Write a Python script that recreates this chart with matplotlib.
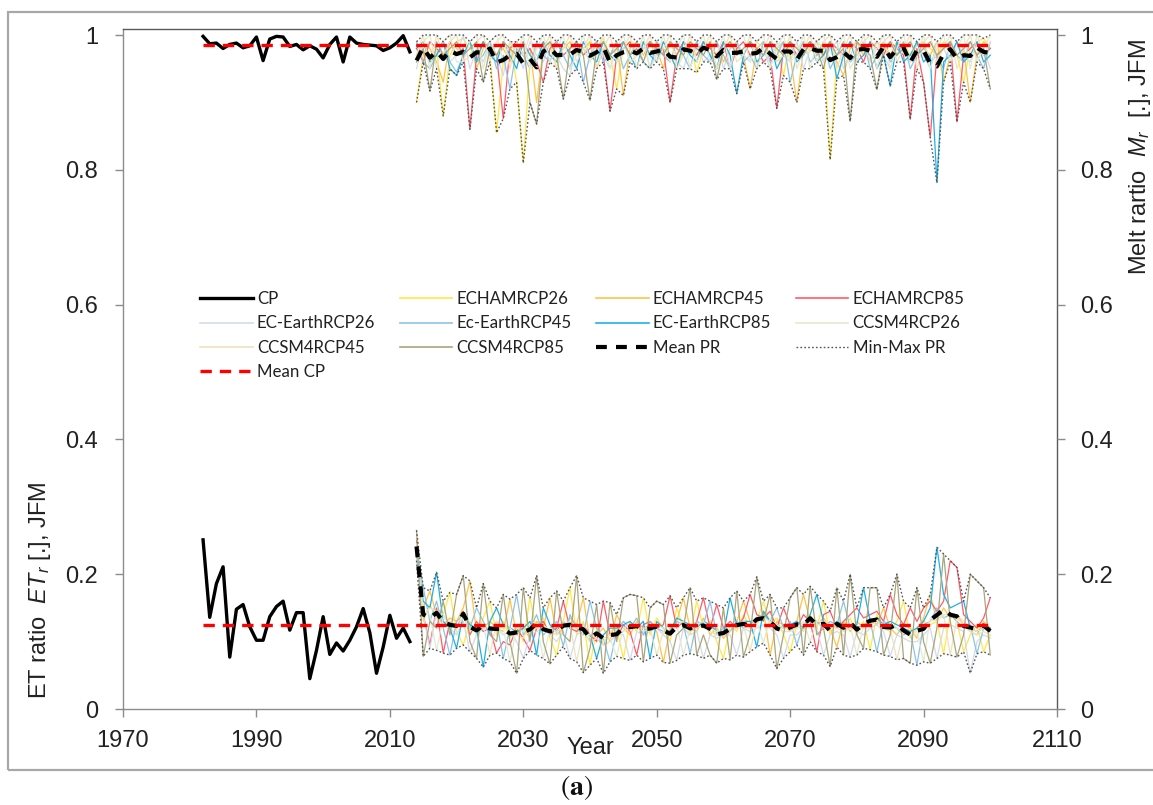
import numpy as np
import matplotlib
matplotlib.use("Agg")
import matplotlib.pyplot as plt
from matplotlib.lines import Line2D
from matplotlib.patches import Rectangle

# ---------------------------------------------------------------- data
years_cp = np.arange(1982, 2014)
years_pr = np.arange(2014, 2101)

# Control period (observed) ratios, JFM
cp_melt = [0.998, 0.987, 0.988, 0.980, 0.986, 0.988, 0.981, 0.984, 0.997, 0.962,
           0.994, 0.998, 0.997, 0.983, 0.986, 0.978, 0.984, 0.979, 0.966, 0.986,
           0.997, 0.960, 0.997, 0.988, 0.986, 0.985, 0.984, 0.977, 0.981, 0.988,
           0.999, 0.975]
cp_et = [0.251, 0.136, 0.186, 0.211, 0.077, 0.148, 0.155, 0.122, 0.102, 0.102,
         0.137, 0.152, 0.160, 0.117, 0.143, 0.143, 0.045, 0.087, 0.137, 0.081,
         0.098, 0.086, 0.102, 0.122, 0.149, 0.113, 0.053, 0.092, 0.139, 0.105,
         0.120, 0.100]

# Projection period melt ratio (2014-2100)
echam26_melt = [0.900, 0.97, 0.99, 0.98, 0.880, 0.97, 0.99, 0.995, 0.98, 0.97,
                0.99, 0.97, 0.855, 0.96, 0.99, 0.930, 0.810, 0.96, 0.98, 0.99,
                0.985, 0.950, 0.99, 0.98, 0.99, 0.97, 0.99, 0.98, 0.995, 0.97,
                0.920, 0.98, 0.99, 0.985, 0.99, 0.97, 0.99, 0.98, 0.97, 0.950,
                0.98, 0.99, 0.944, 0.98, 0.99, 0.97, 0.98, 0.99, 0.98, 0.97,
                0.99, 0.98, 0.99, 0.97, 0.98, 0.940, 0.99, 0.98, 0.99, 0.975,
                0.99, 0.98, 0.815, 0.97, 0.99, 0.98, 0.99, 0.975, 0.99, 0.98,
                0.99, 0.97, 0.98, 0.99, 0.97, 0.985, 0.99, 0.98, 0.97, 0.99,
                0.98, 0.97, 0.930, 0.98, 0.99, 0.995, 0.98]
echam45_melt = [0.97, 0.99, 0.98, 0.96, 0.930, 0.99, 0.98, 0.97, 0.99, 0.950,
                0.98, 0.99, 0.97, 0.98, 0.96, 0.99, 0.97, 0.98, 0.900, 0.98,
                0.99, 0.97, 0.98, 0.99, 0.97, 0.98, 0.99, 0.950, 0.98, 0.97,
                0.99, 0.910, 0.98, 0.99, 0.97, 0.99, 0.98, 0.950, 0.99, 0.97,
                0.99, 0.98, 0.97, 0.99, 0.98, 0.99, 0.96, 0.98, 0.99, 0.97,
                0.920, 0.98, 0.99, 0.97, 0.98, 0.99, 0.97, 0.900, 0.98, 0.99,
                0.97, 0.98, 0.99, 0.96, 0.940, 0.98, 0.99, 0.97, 0.98, 0.99,
                0.98, 0.97, 0.99, 0.98, 0.96, 0.99, 0.98, 0.97, 0.99, 0.930,
                0.97, 0.99, 0.98, 0.900, 0.97, 0.99, 0.98]
echam85_melt = [0.98, 0.96, 0.99, 0.98, 0.97, 0.99, 0.97, 0.98, 0.860, 0.97,
                0.99, 0.98, 0.97, 0.876, 0.98, 0.99, 0.97, 0.98, 0.96, 0.930,
                0.98, 0.99, 0.97, 0.98, 0.99, 0.97, 0.98, 0.99, 0.97, 0.887,
                0.97, 0.98, 0.99, 0.97, 0.98, 0.99, 0.97, 0.98, 0.900, 0.97,
                0.99, 0.98, 0.97, 0.99, 0.98, 0.97, 0.99, 0.950, 0.98, 0.99,
                0.97, 0.98, 0.96, 0.97, 0.891, 0.98, 0.99, 0.97, 0.98, 0.99,
                0.98, 0.97, 0.99, 0.98, 0.97, 0.99, 0.98, 0.960, 0.99, 0.98,
                0.97, 0.99, 0.98, 0.97, 0.875, 0.98, 0.930, 0.848, 0.97, 0.98,
                0.99, 0.871, 0.97, 0.98, 0.99, 0.97, 0.98]
ecearth26_melt = [0.95, 0.99, 0.96, 0.98, 0.99, 0.96, 0.97, 1.00, 0.95, 0.98,
                  0.96, 0.99, 0.97, 0.94, 0.99, 0.98, 0.95, 0.99, 0.97, 0.96,
                  0.99, 0.97, 0.95, 0.94, 0.99, 0.98, 0.96, 0.99, 0.97, 0.95,
                  0.98, 0.99, 0.96, 0.97, 0.99, 0.95, 0.98, 0.99, 0.97, 0.96,
                  0.95, 0.98, 0.99, 0.96, 0.97, 0.99, 0.95, 0.98, 0.99, 0.97,
                  0.96, 0.99, 0.98, 0.95, 0.99, 0.97, 0.96, 0.99, 0.95, 0.98,
                  0.99, 0.96, 0.98, 0.99, 0.95, 0.97, 0.99, 0.98, 0.96, 0.99,
                  0.97, 0.95, 0.99, 0.98, 0.96, 0.99, 0.97, 0.95, 0.99, 0.98,
                  0.96, 0.99, 0.97, 0.96, 0.99, 0.98, 0.95]
ecearth45_melt = [0.99, 0.96, 0.950, 0.97, 0.99, 0.96, 0.945, 0.97, 0.99, 0.96,
                  0.97, 0.99, 0.95, 0.97, 0.920, 0.98, 0.97, 0.95, 0.99, 0.97,
                  0.96, 0.99, 0.97, 0.95, 0.99, 0.930, 0.97, 0.99, 0.96, 0.97,
                  0.99, 0.95, 0.97, 0.99, 0.96, 0.950, 0.99, 0.97, 0.96, 0.99,
                  0.97, 0.95, 0.99, 0.97, 0.96, 0.99, 0.97, 0.95, 0.99, 0.96,
                  0.97, 0.950, 0.99, 0.96, 0.97, 0.99, 0.930, 0.97, 0.99, 0.96,
                  0.97, 0.99, 0.95, 0.97, 0.99, 0.96, 0.97, 0.99, 0.95, 0.97,
                  0.99, 0.96, 0.97, 0.99, 0.95, 0.97, 0.99, 0.96, 0.97, 0.950,
                  0.99, 0.97, 0.96, 0.99, 0.97, 0.95, 0.99]
ecearth85_melt = [0.98, 0.99, 0.96, 0.97, 0.99, 0.950, 0.940, 0.97, 0.99, 0.96,
                  0.99, 0.97, 0.96, 0.99, 0.97, 0.95, 0.99, 0.97, 0.96, 0.99,
                  0.97, 0.96, 0.99, 0.97, 0.95, 0.99, 0.97, 0.96, 0.99, 0.97,
                  0.96, 0.99, 0.97, 0.95, 0.99, 0.97, 0.96, 0.99, 0.97, 0.95,
                  0.99, 0.97, 0.96, 0.99, 0.97, 0.95, 0.99, 0.97, 0.913, 0.97,
                  0.99, 0.96, 0.97, 0.99, 0.95, 0.97, 0.99, 0.96, 0.97, 0.99,
                  0.96, 0.97, 0.99, 0.935, 0.97, 0.99, 0.96, 0.97, 0.99, 0.95,
                  0.97, 0.924, 0.99, 0.96, 0.97, 0.99, 0.96, 0.97, 0.781, 0.96,
                  0.97, 0.99, 0.96, 0.97, 0.99, 0.96, 0.97]
ccsm26_melt = [0.96, 0.99, 1.00, 0.95, 0.99, 1.00, 0.96, 0.960, 0.99, 1.00,
               0.95, 0.99, 1.00, 0.96, 0.99, 0.97, 1.00, 0.95, 0.98, 1.00,
               0.96, 0.98, 1.00, 0.95, 0.97, 1.00, 0.96, 0.98, 1.00, 0.95,
               0.98, 1.00, 0.96, 0.97, 1.00, 0.95, 0.97, 1.00, 0.96, 0.98,
               1.00, 0.95, 0.98, 1.00, 0.96, 0.97, 1.00, 0.95, 0.99, 1.00,
               0.96, 0.99, 1.00, 0.95, 0.98, 1.00, 0.96, 0.97, 1.00, 0.95,
               0.99, 1.00, 0.96, 0.98, 1.00, 0.95, 0.97, 1.00, 0.96, 0.98,
               1.00, 0.95, 0.98, 1.00, 0.96, 0.97, 1.00, 0.95, 0.98, 1.00,
               0.96, 0.98, 1.00, 0.95, 1.00, 0.97, 0.99]
ccsm45_melt = [0.97, 1.00, 0.95, 1.00, 0.97, 0.99, 1.00, 0.96, 0.97, 0.99,
               1.00, 0.96, 0.99, 1.00, 0.95, 0.99, 0.97, 1.00, 0.96, 0.98,
               1.00, 0.95, 0.98, 1.00, 0.96, 0.98, 1.00, 0.95, 0.98, 1.00,
               0.96, 0.98, 1.00, 0.95, 0.98, 1.00, 0.96, 0.98, 1.00, 0.95,
               0.97, 1.00, 0.96, 0.98, 1.00, 0.95, 0.98, 1.00, 0.96, 0.97,
               1.00, 0.95, 0.98, 1.00, 0.96, 0.97, 1.00, 0.95, 0.98, 1.00,
               0.96, 0.99, 1.00, 0.95, 0.98, 1.00, 0.96, 0.99, 1.00, 0.95,
               0.99, 1.00, 0.96, 0.98, 1.00, 0.95, 0.99, 1.00, 0.96, 0.98,
               1.00, 0.95, 0.98, 1.00, 0.96, 0.98, 1.00]
ccsm85_melt = [0.96, 0.98, 0.917, 0.99, 0.97, 0.98, 0.99, 0.97, 0.98, 0.99,
               0.930, 0.98, 0.97, 0.99, 0.98, 0.97, 0.99, 0.900, 0.868, 0.98,
               0.99, 0.97, 0.905, 0.98, 0.99, 0.97, 0.903, 0.98, 0.99, 0.97,
               0.98, 0.99, 0.97, 0.98, 0.960, 0.99, 0.98, 0.97, 0.99, 0.98,
               0.97, 0.99, 0.98, 0.97, 0.99, 0.934, 0.98, 0.99, 0.97, 0.98,
               0.99, 0.98, 0.97, 0.99, 0.98, 0.97, 0.99, 0.98, 0.97, 0.99,
               0.98, 0.950, 0.99, 0.97, 0.98, 0.872, 0.99, 0.98, 0.97, 0.919,
               0.98, 0.99, 0.97, 0.98, 0.99, 0.97, 0.98, 0.99, 0.97, 0.98,
               0.99, 0.97, 0.98, 0.99, 0.97, 0.98, 0.920]

# Projection period ET ratio (2014-2100)
echam26_et = [0.245, 0.130, 0.155, 0.135, 0.140, 0.173, 0.115, 0.095, 0.130, 0.110,
              0.135, 0.160, 0.110, 0.130, 0.105, 0.125, 0.100, 0.165, 0.115, 0.135,
              0.105, 0.080, 0.130, 0.180, 0.110, 0.130, 0.065, 0.120, 0.095, 0.115,
              0.120, 0.075, 0.130, 0.115, 0.165, 0.110, 0.135, 0.120, 0.100, 0.150,
              0.120, 0.110, 0.160, 0.120, 0.130, 0.100, 0.075, 0.125, 0.115, 0.140,
              0.120, 0.130, 0.160, 0.125, 0.135, 0.110, 0.085, 0.125, 0.115, 0.140,
              0.120, 0.160, 0.110, 0.130, 0.115, 0.135, 0.110, 0.130, 0.088, 0.140,
              0.120, 0.115, 0.130, 0.160, 0.105, 0.120, 0.130, 0.125, 0.130, 0.082,
              0.140, 0.130, 0.085, 0.110, 0.125, 0.085, 0.110]
echam45_et = [0.235, 0.150, 0.175, 0.140, 0.125, 0.135, 0.130, 0.150, 0.190, 0.115,
              0.120, 0.130, 0.120, 0.115, 0.163, 0.110, 0.120, 0.105, 0.130, 0.120,
              0.165, 0.110, 0.120, 0.135, 0.125, 0.165, 0.100, 0.110, 0.120, 0.100,
              0.140, 0.120, 0.110, 0.130, 0.120, 0.125, 0.115, 0.069, 0.120, 0.130,
              0.165, 0.120, 0.115, 0.135, 0.110, 0.120, 0.105, 0.115, 0.130, 0.160,
              0.130, 0.125, 0.145, 0.080, 0.130, 0.125, 0.115, 0.130, 0.170, 0.130,
              0.125, 0.135, 0.120, 0.092, 0.130, 0.115, 0.130, 0.120, 0.135, 0.125,
              0.150, 0.120, 0.110, 0.125, 0.120, 0.105, 0.135, 0.170, 0.130, 0.150,
              0.135, 0.140, 0.125, 0.115, 0.110, 0.130, 0.120]
echam85_et = [0.250, 0.140, 0.095, 0.150, 0.083, 0.130, 0.120, 0.145, 0.110, 0.130,
              0.115, 0.120, 0.083, 0.100, 0.095, 0.120, 0.105, 0.087, 0.120, 0.130,
              0.110, 0.120, 0.160, 0.120, 0.115, 0.125, 0.110, 0.100, 0.160, 0.110,
              0.105, 0.125, 0.115, 0.080, 0.125, 0.130, 0.120, 0.125, 0.168, 0.120,
              0.130, 0.115, 0.130, 0.165, 0.120, 0.155, 0.120, 0.130, 0.120, 0.135,
              0.170, 0.140, 0.135, 0.145, 0.120, 0.150, 0.125, 0.120, 0.140, 0.130,
              0.085, 0.140, 0.145, 0.120, 0.130, 0.140, 0.150, 0.135, 0.140, 0.145,
              0.130, 0.170, 0.140, 0.125, 0.150, 0.130, 0.150, 0.160, 0.145, 0.160,
              0.220, 0.210, 0.140, 0.130, 0.120, 0.135, 0.165]
ecearth26_et = [0.220, 0.140, 0.090, 0.145, 0.130, 0.120, 0.110, 0.130, 0.085, 0.110,
                0.120, 0.115, 0.120, 0.110, 0.115, 0.100, 0.075, 0.110, 0.115, 0.120,
                0.110, 0.100, 0.115, 0.075, 0.110, 0.115, 0.100, 0.105, 0.095, 0.100,
                0.110, 0.110, 0.072, 0.115, 0.110, 0.115, 0.120, 0.110, 0.100, 0.072,
                0.120, 0.110, 0.115, 0.075, 0.110, 0.105, 0.110, 0.110, 0.080, 0.120,
                0.115, 0.120, 0.125, 0.120, 0.110, 0.075, 0.110, 0.110, 0.120, 0.125,
                0.120, 0.080, 0.110, 0.115, 0.110, 0.077, 0.115, 0.110, 0.120, 0.125,
                0.115, 0.078, 0.110, 0.105, 0.100, 0.100, 0.110, 0.120, 0.075, 0.120,
                0.125, 0.120, 0.115, 0.053, 0.100, 0.110, 0.105]
ecearth45_et = [0.240, 0.180, 0.130, 0.160, 0.120, 0.080, 0.130, 0.140, 0.120, 0.150,
                0.130, 0.110, 0.130, 0.075, 0.120, 0.170, 0.110, 0.120, 0.140, 0.110,
                0.120, 0.130, 0.093, 0.140, 0.120, 0.110, 0.160, 0.120, 0.105, 0.070,
                0.115, 0.130, 0.120, 0.135, 0.110, 0.130, 0.120, 0.115, 0.110, 0.130,
                0.125, 0.082, 0.130, 0.125, 0.160, 0.110, 0.120, 0.115, 0.130, 0.120,
                0.125, 0.135, 0.140, 0.130, 0.150, 0.120, 0.130, 0.095, 0.125, 0.135,
                0.130, 0.120, 0.130, 0.125, 0.160, 0.120, 0.120, 0.125, 0.130, 0.085,
                0.130, 0.125, 0.120, 0.110, 0.115, 0.065, 0.125, 0.130, 0.150, 0.135,
                0.140, 0.130, 0.120, 0.125, 0.082, 0.120, 0.115]
ecearth85_et = [0.230, 0.160, 0.150, 0.203, 0.130, 0.120, 0.090, 0.140, 0.125, 0.120,
                0.062, 0.130, 0.150, 0.125, 0.120, 0.115, 0.120, 0.130, 0.080, 0.150,
                0.125, 0.115, 0.130, 0.120, 0.125, 0.120, 0.110, 0.075, 0.110, 0.120,
                0.120, 0.125, 0.130, 0.120, 0.130, 0.075, 0.130, 0.120, 0.115, 0.135,
                0.130, 0.125, 0.120, 0.130, 0.125, 0.115, 0.110, 0.165, 0.125, 0.130,
                0.130, 0.092, 0.145, 0.130, 0.125, 0.120, 0.125, 0.130, 0.120, 0.140,
                0.170, 0.130, 0.120, 0.130, 0.125, 0.120, 0.125, 0.180, 0.130, 0.135,
                0.125, 0.130, 0.125, 0.120, 0.115, 0.120, 0.130, 0.150, 0.240, 0.170,
                0.150, 0.155, 0.160, 0.120, 0.115, 0.120, 0.120]
ccsm26_et = [0.240, 0.145, 0.140, 0.087, 0.135, 0.130, 0.125, 0.140, 0.115, 0.125,
             0.125, 0.120, 0.125, 0.120, 0.070, 0.120, 0.115, 0.120, 0.125, 0.075,
             0.120, 0.115, 0.125, 0.130, 0.120, 0.125, 0.105, 0.115, 0.100, 0.105,
             0.078, 0.120, 0.125, 0.120, 0.120, 0.120, 0.125, 0.120, 0.115, 0.125,
             0.080, 0.120, 0.125, 0.130, 0.120, 0.115, 0.115, 0.120, 0.125, 0.130,
             0.125, 0.130, 0.098, 0.135, 0.125, 0.120, 0.120, 0.120, 0.130, 0.100,
             0.130, 0.130, 0.125, 0.125, 0.120, 0.125, 0.080, 0.125, 0.130, 0.130,
             0.125, 0.120, 0.120, 0.115, 0.110, 0.115, 0.070, 0.135, 0.130, 0.140,
             0.140, 0.140, 0.130, 0.120, 0.115, 0.120, 0.115]
ccsm45_et = [0.245, 0.140, 0.150, 0.145, 0.140, 0.125, 0.120, 0.135, 0.120, 0.115,
             0.125, 0.080, 0.130, 0.125, 0.120, 0.110, 0.105, 0.125, 0.120, 0.125,
             0.115, 0.110, 0.130, 0.125, 0.070, 0.120, 0.110, 0.110, 0.105, 0.110,
             0.110, 0.115, 0.120, 0.125, 0.115, 0.120, 0.080, 0.115, 0.110, 0.125,
             0.130, 0.115, 0.120, 0.125, 0.115, 0.110, 0.110, 0.115, 0.120, 0.125,
             0.085, 0.130, 0.135, 0.130, 0.120, 0.115, 0.115, 0.120, 0.125, 0.130,
             0.125, 0.125, 0.120, 0.120, 0.115, 0.120, 0.120, 0.120, 0.125, 0.130,
             0.120, 0.120, 0.073, 0.115, 0.110, 0.110, 0.120, 0.130, 0.135, 0.140,
             0.080, 0.135, 0.125, 0.115, 0.110, 0.115, 0.110]
ccsm85_et = [0.265, 0.078, 0.130, 0.120, 0.160, 0.110, 0.170, 0.198, 0.100, 0.075,
             0.186, 0.110, 0.100, 0.170, 0.100, 0.053, 0.180, 0.100, 0.198, 0.100,
             0.067, 0.175, 0.110, 0.100, 0.198, 0.054, 0.090, 0.155, 0.053, 0.158,
             0.100, 0.165, 0.170, 0.168, 0.070, 0.150, 0.160, 0.155, 0.068, 0.110,
             0.120, 0.180, 0.080, 0.110, 0.080, 0.068, 0.150, 0.073, 0.175, 0.077,
             0.110, 0.196, 0.130, 0.170, 0.060, 0.110, 0.165, 0.180, 0.080, 0.182,
             0.110, 0.120, 0.063, 0.180, 0.080, 0.200, 0.110, 0.090, 0.180, 0.180,
             0.080, 0.110, 0.200, 0.075, 0.068, 0.180, 0.100, 0.068, 0.120, 0.230,
             0.130, 0.077, 0.110, 0.200, 0.190, 0.180, 0.080]

labels = ["ECHAMRCP26", "ECHAMRCP45", "ECHAMRCP85",
          "EC-EarthRCP26", "Ec-EarthRCP45", "EC-EarthRCP85",
          "CCSM4RCP26", "CCSM4RCP45", "CCSM4RCP85"]
colors = ["#ffe84a", "#ffc24a", "#ff5a6a",
          "#d3dbe8", "#8cc4e6", "#1fb0e6",
          "#e3ead0", "#efe2c0", "#a9a57c"]
melt_runs = [echam26_melt, echam45_melt, echam85_melt,
             ecearth26_melt, ecearth45_melt, ecearth85_melt,
             ccsm26_melt, ccsm45_melt, ccsm85_melt]
et_runs = [echam26_et, echam45_et, echam85_et,
           ecearth26_et, ecearth45_et, ecearth85_et,
           ccsm26_et, ccsm45_et, ccsm85_et]

for run in melt_runs + et_runs:
    if len(run) != len(years_pr):
        raise ValueError("series length mismatch: %d" % len(run))

# ---------------------------------------------------------------- figure
W, H = 1153, 805
fig = plt.figure(figsize=(W / 100, H / 100), dpi=100)
fig.patch.set_facecolor("white")

x0, x1, y0, y1 = 123, 1057, 709, 29
ax = fig.add_axes([x0 / W, 1 - y0 / H, (x1 - x0) / W, (y0 - y1) / H])
ymax = 1 + 6 / 674.0

# projections
for run, col in zip(melt_runs, colors):
    ax.plot(years_pr, run, color=col, lw=0.9, zorder=2)
for run, col in zip(et_runs, colors):
    ax.plot(years_pr, run, color=col, lw=0.9, zorder=2)

melt_arr = np.array(melt_runs)
et_arr = np.array(et_runs)
mm_style = dict(color="#555555", lw=1.0, dashes=(1.2, 1.6), zorder=3)
for arr in (melt_arr, et_arr):
    ax.plot(years_pr, arr.min(axis=0), **mm_style)
    ax.plot(years_pr, arr.max(axis=0), **mm_style)

mean_style = dict(color="black", lw=3.0, dashes=(2.6, 2.2), zorder=4)
ax.plot(years_pr, melt_arr.mean(axis=0), **mean_style)
ax.plot(years_pr, et_arr.mean(axis=0), **mean_style)

ax.plot(years_cp, cp_melt, color="black", lw=2.4, zorder=5)
ax.plot(years_cp, cp_et, color="black", lw=2.4, zorder=5)

cp_span = [years_cp[0], years_pr[-1]]
mcp_style = dict(color="#ff0000", lw=2.4, dashes=(3.4, 2.4), zorder=6)
ax.plot(cp_span, [np.mean(cp_melt)] * 2, **mcp_style)
ax.plot(cp_span, [np.mean(cp_et)] * 2, **mcp_style)

ax.set_xlim(1970, 2110)
ax.set_ylim(0, ymax)
ax.set_xticks(np.arange(1970, 2111, 20))
yt = np.arange(0, 1.01, 0.2)
ax.set_yticks(yt)
ax.set_yticklabels(["%g" % round(v, 1) for v in yt])
for lab in ax.get_xticklabels() + ax.get_yticklabels():
    lab.set_fontfamily("Liberation Sans")
ax.tick_params(axis="both", direction="out", length=6, width=1,
               color="#8c8c8c", labelsize=17, labelcolor="#222222")
ax.tick_params(axis="x", pad=9)
ax.tick_params(axis="y", pad=12)
for s in ("left", "bottom"):
    ax.spines[s].set_color("#8c8c8c")
for s in ("top", "right"):
    ax.spines[s].set_color("#5a5a5a")
for s in ax.spines.values():
    s.set_linewidth(1.0)

ax2 = ax.twinx()
ax2.set_ylim(0, ymax)
ax2.set_yticks(yt)
ax2.set_yticklabels(["%g" % round(v, 1) for v in yt])
for lab in ax2.get_yticklabels():
    lab.set_fontfamily("Liberation Sans")
ax2.tick_params(axis="y", direction="out", length=6, width=1, color="#8c8c8c",
                labelsize=17, labelcolor="#222222", pad=11)
for s in ax2.spines.values():
    s.set_visible(False)

# axis titles
plt.rcParams["mathtext.fontset"] = "custom"
plt.rcParams["mathtext.rm"] = "Liberation Sans"
plt.rcParams["mathtext.it"] = "Liberation Sans:italic"
fig.text(590 / W, 1 - 748 / H, "Year", ha="center", va="center",
         family="Liberation Sans", size=17, color="#222222")
fig.text(40 / W, 1 - 590 / H, r"ET ratio  $ET_r$ [.], JFM", rotation=90,
         ha="center", va="center", family="Liberation Sans", size=17,
         color="#222222")
fig.text(1140 / W, 1 - 157 / H, r"Melt rartio  $M_r$  [.], JFM", rotation=90,
         ha="center", va="center", family="Liberation Sans", size=17,
         color="#222222")
fig.text(576 / W, 1 - 787 / H, r"$(\mathbf{a})$", ha="center", va="center",
         size=20, math_fontfamily="stix", color="#111111")

# outer frame
fig.add_artist(Rectangle((8 / W, 1 - 770 / H), 1.2, (770 - 12) / H,
                         transform=fig.transFigure, fill=False,
                         ec="#a8a8a8", lw=1.6))

# legend (row-major order laid into four columns)
h = {}
h["CP"] = Line2D([], [], color="black", lw=2.4)
for lab, col in zip(labels, colors):
    h[lab] = Line2D([], [], color=col, lw=1.2)
h["Mean PR"] = Line2D([], [], **mean_style)
h["Min-Max PR"] = Line2D([], [], **mm_style)
h["Mean CP"] = Line2D([], [], **mcp_style)
order = ["CP", "EC-EarthRCP26", "CCSM4RCP45", "Mean CP",
         "ECHAMRCP26", "Ec-EarthRCP45", "CCSM4RCP85",
         "ECHAMRCP45", "EC-EarthRCP85", "Mean PR",
         "ECHAMRCP85", "CCSM4RCP26", "Min-Max PR"]
leg = ax.legend([h[k] for k in order], order, ncol=4,
                loc="upper left", bbox_to_anchor=(200 / W, 1 - 291 / H),
                bbox_transform=fig.transFigure, frameon=False,
                prop=dict(family="Lato", size=12.2),
                handlelength=3.1, handletextpad=0.25, columnspacing=1.45,
                labelspacing=0.5, borderpad=0, borderaxespad=0)
for t in leg.get_texts():
    t.set_color("#222222")

fig.savefig("out.png", dpi=100)
